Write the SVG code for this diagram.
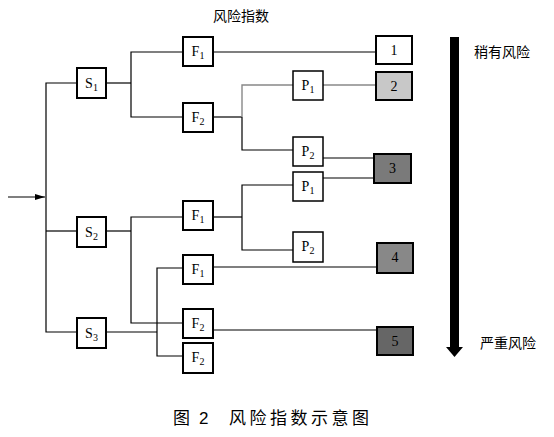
<svg xmlns="http://www.w3.org/2000/svg" width="554" height="437" viewBox="0 0 554 437">
<style>
.n{fill:#fff;stroke:#000;stroke-width:2}
.p{fill:#fff;stroke:#000;stroke-width:1.5}
.l{font-family:"Liberation Serif",serif;font-size:14px;text-anchor:middle;fill:#000}
.s{font-size:10px}
.c{fill:none;stroke:#000;stroke-width:1.2}
.g{fill:none;stroke:#888;stroke-width:1.4}
.t{font-family:"Noto Sans CJK SC",sans-serif;font-size:14px;fill:#000}
</style>
<defs>
<marker id="ah" viewBox="0 0 10 6" refX="10" refY="3" markerWidth="10" markerHeight="6" markerUnits="userSpaceOnUse" orient="auto">
<path d="M0,0 L10,3 L0,6 Z" fill="#000"/>
</marker>
</defs>
<rect width="554" height="437" fill="#fff"/>
<g id="connectors">
<path class="c" d="M8,197 H45" marker-end="url(#ah)"/>
<path class="c" d="M77,83 H46 V332 H77"/>
<path class="c" d="M46,231 H77"/>
<path class="c" d="M106,83 H131"/>
<path class="c" d="M183,52 H131 V117 H183"/>
<path class="c" d="M213,52 H376"/>
<path class="c" d="M213,117 H242"/>
<path class="g" d="M242,117 V85 H293"/>
<path class="g" d="M323,85 H376"/>
<path class="c" d="M242,117 V150 H293"/>
<path class="c" d="M323,158 H374"/>
<path class="c" d="M323,178 H374"/>
<path class="c" d="M106,231 H131"/>
<path class="c" d="M183,217 H131 V323 H183"/>
<path class="c" d="M213,217 H242"/>
<path class="c" d="M293,185 H242 V250 H293"/>
<path class="c" d="M106,332 H157"/>
<path class="c" d="M183,268 H157 V356 H183"/>
<path class="c" d="M213,267 H377"/>
<path class="c" d="M213,330 H377"/>
</g>
<g id="S1"><rect class="n" x="77" y="68" width="29" height="30"/><text class="l" x="91.5" y="88">S<tspan class="s" dy="3">1</tspan></text></g>
<g id="S2"><rect class="n" x="77" y="217" width="29" height="30"/><text class="l" x="91.5" y="237">S<tspan class="s" dy="3">2</tspan></text></g>
<g id="S3"><rect class="n" x="77" y="318" width="29" height="30"/><text class="l" x="91.5" y="338">S<tspan class="s" dy="3">3</tspan></text></g>
<g id="F1a"><rect class="n" x="183" y="37" width="30" height="29"/><text class="l" x="198" y="56">F<tspan class="s" dy="3">1</tspan></text></g>
<g id="F2a"><rect class="n" x="183" y="103" width="30" height="29"/><text class="l" x="198" y="122">F<tspan class="s" dy="3">2</tspan></text></g>
<g id="F1b"><rect class="n" x="183" y="201" width="30" height="29"/><text class="l" x="198" y="220">F<tspan class="s" dy="3">1</tspan></text></g>
<g id="F1c"><rect class="n" x="183" y="255" width="30" height="29"/><text class="l" x="198" y="274">F<tspan class="s" dy="3">1</tspan></text></g>
<g id="F2b"><rect class="n" x="183" y="309" width="30" height="29"/><text class="l" x="198" y="328">F<tspan class="s" dy="3">2</tspan></text></g>
<g id="F2c"><rect class="n" x="183" y="343" width="30" height="30"/><text class="l" x="198" y="362">F<tspan class="s" dy="3">2</tspan></text></g>
<g id="P1a"><rect class="p" x="293" y="71" width="30" height="29"/><text class="l" x="308" y="90">P<tspan class="s" dy="3">1</tspan></text></g>
<g id="P2a"><rect class="p" x="293" y="137" width="30" height="29"/><text class="l" x="308" y="156">P<tspan class="s" dy="3">2</tspan></text></g>
<g id="P1b"><rect class="p" x="293" y="172" width="30" height="29"/><text class="l" x="308" y="191">P<tspan class="s" dy="3">1</tspan></text></g>
<g id="P2b"><rect class="p" x="293" y="232" width="30" height="30"/><text class="l" x="308" y="251">P<tspan class="s" dy="3">2</tspan></text></g>
<g id="R1"><rect class="n" x="376" y="36" width="36" height="28"/><text class="l" x="394" y="55">1</text></g>
<g id="R2"><rect class="n" x="376" y="72" width="36" height="28" style="fill:#c8c8c8"/><text class="l" x="394" y="91">2</text></g>
<g id="R3"><rect class="n" x="374" y="154" width="37" height="29" style="fill:#7a7a7a"/><text class="l" x="392.5" y="173">3</text></g>
<g id="R4"><rect class="n" x="377" y="243" width="36" height="30" style="fill:#888"/><text class="l" x="395" y="262">4</text></g>
<g id="R5"><rect class="n" x="377" y="327" width="36" height="28" style="fill:#666"/><text class="l" x="395" y="346">5</text></g>
<g id="scale">
<rect x="450" y="37" width="9" height="312" fill="#000"/>
<path d="M446,347 H463 L454.5,357 Z" fill="#000"/>
<text class="t" x="474" y="57">稍有风险</text>
<text class="t" x="480" y="348">严重风险</text>
</g>
<text class="t" x="213" y="21">风险指数</text>
<text class="t" x="173" y="424" style="font-size:17px">图</text>
<text x="199" y="424" style="font-family:'Liberation Sans',sans-serif;font-size:17px">2</text>
<text class="t" x="229" y="424" style="font-size:17px;letter-spacing:3.5px">风险指数示意图</text>
</svg>
